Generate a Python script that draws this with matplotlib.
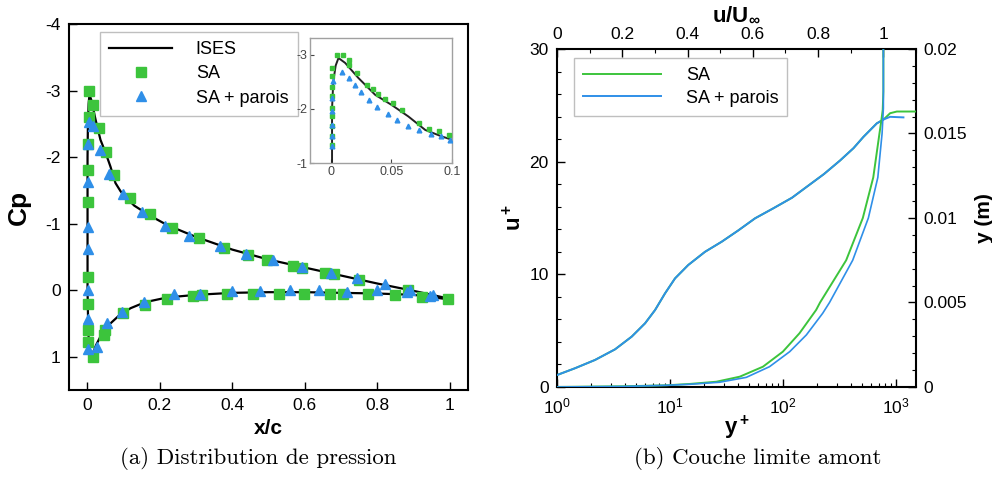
import numpy as np
import matplotlib
matplotlib.use("Agg")
import matplotlib.pyplot as plt
from matplotlib.ticker import MultipleLocator, NullFormatter, LogLocator

plt.rcParams['font.family'] = ['Liberation Sans', 'DejaVu Sans']
plt.rcParams['mathtext.fontset'] = 'custom'
plt.rcParams['mathtext.rm'] = 'Liberation Sans'
plt.rcParams['mathtext.it'] = 'Liberation Sans:italic'
plt.rcParams['mathtext.bf'] = 'Liberation Sans:bold'
plt.rcParams['axes.unicode_minus'] = False

# ---------------- Data: (a) pressure distribution ----------------
ises_x = [1.0, 0.9, 0.8, 0.7, 0.6, 0.5, 0.4, 0.3, 0.22, 0.16, 0.12, 0.09, 0.06, 0.04,
          0.025, 0.015, 0.011, 0.006, 0.003, 0.001, 0.001, 0.001, 0.002, 0.004, 0.0063,
          0.0118, 0.0228, 0.0366, 0.0504, 0.064, 0.078, 0.0917, 0.1, 0.13, 0.17, 0.22,
          0.3, 0.4, 0.5, 0.6, 0.7, 0.8, 0.9, 1.0]
ises_cp = [0.14, 0.07, 0.05, 0.04, 0.03, 0.03, 0.04, 0.07, 0.11, 0.18, 0.27, 0.37, 0.52, 0.66,
           0.82, 0.95, 1.0, 0.93, 0.6, 0.0, -1.0, -2.0, -2.5, -2.8, -2.94,
           -2.85, -2.57, -2.26, -2.07, -1.86, -1.61, -1.49, -1.43, -1.27, -1.13, -0.98,
           -0.8, -0.61, -0.46, -0.34, -0.22, -0.1, 0.01, 0.13]

sa_x = [0.006, 0.017, 0.004, 0.033, 0.052, 0.075, 0.117, 0.172, 0.233, 0.307, 0.376,
        0.444, 0.495, 0.568, 0.591, 0.656, 0.681, 0.75, 0.885, 0.994,
        0.003, 0.003, 0.003, 0.002, 0.002, 0.002, 0.003, 0.016,
        0.045, 0.05, 0.098, 0.16, 0.22, 0.293, 0.316, 0.385, 0.456, 0.53, 0.598,
        0.67, 0.706, 0.775, 0.849, 0.922]
sa_cp = [-3.0, -2.79, -2.6, -2.43, -2.08, -1.73, -1.38, -1.14, -0.94, -0.78, -0.64,
         -0.53, -0.45, -0.36, -0.34, -0.26, -0.24, -0.16, 0.0, 0.14,
         -2.2, -1.81, -1.33, -0.2, 0.21, 0.6, 0.78, 1.0,
         0.67, 0.6, 0.35, 0.22, 0.14, 0.09, 0.07, 0.06, 0.05, 0.05, 0.05,
         0.05, 0.05, 0.05, 0.07, 0.1]

sap_x = [0.004, 0.017, 0.034, 0.059, 0.1, 0.15, 0.215, 0.282, 0.365, 0.438, 0.511,
         0.591, 0.671, 0.745, 0.821, 0.89, 0.954,
         0.002, 0.002, 0.002, 0.002, 0.002, 0.002, 0.003, 0.027,
         0.056, 0.095, 0.158, 0.238, 0.311, 0.4, 0.477, 0.559, 0.64, 0.715, 0.8, 0.883, 0.945]
sap_cp = [-2.52, -2.46, -2.11, -1.75, -1.44, -1.17, -0.96, -0.82, -0.66, -0.54, -0.45,
          -0.35, -0.26, -0.19, -0.1, 0.0, 0.075,
          -2.2, -1.62, -0.95, -0.62, 0.0, 0.44, 0.88, 0.85,
          0.5, 0.33, 0.18, 0.06, 0.05, 0.01, 0.01, -0.01, 0.0, 0.03, 0.0, 0.03, 0.08]

# inset (leading-edge zoom)
in_sa_x = [0.0008, 0.0008, 0.0008, 0.0008, 0.0008, 0.0008, 0.0006, 0.0006, 0.0006,
           0.005, 0.0104, 0.0154, 0.0154, 0.0215, 0.0298, 0.0352, 0.0393, 0.0449, 0.0517,
           0.0587, 0.0724, 0.0807, 0.089, 0.0978]
in_sa_cp = [-2.75, -2.6, -2.41, -2.23, -2.02, -1.86, -1.68, -1.49, -1.34,
            -3.0, -3.0, -2.91, -2.82, -2.67, -2.44, -2.36, -2.27, -2.19, -2.10,
            -1.98, -1.73, -1.63, -1.59, -1.52]
in_sap_x = [0.0006, 0.0006, 0.0006, 0.0006, 0.0006, 0.0021, 0.0091, 0.015, 0.020, 0.025,
            0.0317, 0.038, 0.0468, 0.0545, 0.0641, 0.073, 0.0829, 0.091, 0.0986]
in_sap_cp = [-1.31, -1.5, -1.7, -1.96, -2.2, -2.51, -2.69, -2.57, -2.45, -2.31,
             -2.17, -2.03, -1.91, -1.80, -1.69, -1.61, -1.54, -1.49, -1.42]

# ---------------- Data: (b) upstream boundary layer ----------------
yplus_sa = [1, 1.44, 2.17, 3.26, 4.58, 6.01, 7.37, 9.03, 11.07, 14.5, 20.4, 28.7, 40.2,
            56.5, 82, 120, 162, 230, 319, 420, 514, 675, 776, 885, 1015, 1500]
uplus_sa = [1.06, 1.66, 2.40, 3.34, 4.47, 5.65, 6.83, 8.31, 9.64, 10.83, 12.0, 12.9, 13.9,
            14.97, 15.86, 16.8, 17.77, 18.9, 20.1, 21.2, 22.2, 23.4, 23.75, 24.3, 24.45, 24.45]
yplus_sap = [1, 1.44, 2.17, 3.26, 4.58, 6.01, 7.37, 9.03, 11.07, 14.5, 20.4, 28.7, 40.2,
             56.5, 82, 120, 162, 230, 319, 420, 514, 675, 776, 885, 1161]
uplus_sap = [1.06, 1.66, 2.40, 3.34, 4.47, 5.65, 6.83, 8.31, 9.64, 10.83, 12.0, 12.9, 13.9,
             14.97, 15.86, 16.8, 17.77, 18.9, 20.1, 21.2, 22.2, 23.4, 23.75, 23.98, 23.93]

u_sa = [0.0, 0.2, 0.336, 0.407, 0.488, 0.56, 0.631, 0.692, 0.743, 0.794, 0.806, 0.886,
        0.937, 0.969, 0.988, 0.994, 0.998, 1.0, 1.0]
y_sa = [0.0, 0.00004, 0.0001, 0.00018, 0.00031, 0.00061, 0.0012, 0.00209, 0.00318, 0.00456,
        0.005, 0.0075, 0.01, 0.0124, 0.015, 0.0158, 0.0164, 0.0175, 0.02]
u_sap = [0.0, 0.2, 0.336, 0.407, 0.498, 0.58, 0.651, 0.713, 0.764, 0.814, 0.835, 0.906,
         0.954, 0.983, 0.996, 1.0, 1.0]
y_sap = [0.0, 0.00003, 0.0001, 0.00016, 0.00028, 0.00057, 0.0012, 0.00209, 0.00308, 0.00436,
         0.005, 0.0075, 0.01, 0.0124, 0.015, 0.0165, 0.02]

GREEN = '#3cc43c'
BLUE = '#2f8fe8'

fig = plt.figure(figsize=(9.92, 4.79), dpi=100)

# ---------------- (a) ----------------
ax = fig.add_axes([0.0696, 0.1858, 0.4022, 0.7641])
ax.plot(ises_x, ises_cp, color='black', lw=1.6, label='ISES', zorder=2)
ax.plot(sa_x, sa_cp, 's', color=GREEN, ms=6.5, mec=GREEN, label='SA', zorder=3)
ax.plot(sap_x, sap_cp, '^', color=BLUE, ms=6.5, mec=BLUE, label='SA + parois', zorder=4)
ax.set_xlim(-0.05, 1.05)
ax.set_ylim(1.5, -4)
ax.set_xticks([0, 0.2, 0.4, 0.6, 0.8, 1.0])
ax.set_xticklabels(['0', '0.2', '0.4', '0.6', '0.8', '1'])
ax.set_yticks([1, 0, -1, -2, -3, -4])
ax.set_yticklabels(['1', '0', '-1', '-2', '-3', '-4'])
ax.tick_params(direction='in', length=6, width=1, labelsize=12.5, pad=6)
for s in ax.spines.values():
    s.set_linewidth(1.5)
ax.set_xlabel('x/c', fontsize=15, fontweight='bold', labelpad=4)
ax.set_ylabel('Cp', fontsize=19, fontweight='bold', labelpad=10)
leg = ax.legend(loc='upper left', bbox_to_anchor=(0.078, 0.978), borderaxespad=0,
                fontsize=13, frameon=True, fancybox=False, edgecolor='#b0b0b0',
                handlelength=3.5, handletextpad=1.3, borderpad=0.5, labelspacing=0.4)
leg.get_frame().set_linewidth(1.0)

# inset
axi = fig.add_axes([0.3125, 0.6597, 0.1431, 0.2610])
axi.plot(ises_x, ises_cp, color='#222222', lw=1.4, zorder=2)
axi.plot(in_sa_x, in_sa_cp, 's', color=GREEN, ms=3.2, mec=GREEN, zorder=3)
axi.plot(in_sap_x, in_sap_cp, '^', color=BLUE, ms=3.4, mec=BLUE, zorder=4)
axi.set_xlim(-0.0172, 0.1)
axi.set_ylim(-1.0, -3.31)
axi.set_xticks([0, 0.05, 0.1])
axi.set_xticklabels(['0', '0.05', '0.1'])
axi.set_yticks([-1, -2, -3])
axi.set_yticklabels(['-1', '-2', '-3'])
axi.tick_params(direction='in', length=3, width=0.8, labelsize=9, pad=2, colors='#444444')
for s in axi.spines.values():
    s.set_color('#a0a0a0')
    s.set_linewidth(1.0)
axi.set_facecolor('white')

# ---------------- (b) ----------------
bx = fig.add_axes([0.5615, 0.1921, 0.3619, 0.7056])
bx.set_xscale('log')
bx.plot(yplus_sa, uplus_sa, color=GREEN, lw=1.4, label='SA', zorder=3)
bx.plot(yplus_sap, uplus_sap, color=BLUE, lw=1.4, label='SA + parois', zorder=4)
bx.set_xlim(1, 1500)
bx.set_ylim(0, 30)
bx.yaxis.set_major_locator(MultipleLocator(10))
bx.yaxis.set_minor_locator(MultipleLocator(2))
bx.xaxis.set_major_locator(LogLocator(base=10, numticks=10))
bx.xaxis.set_minor_locator(LogLocator(base=10, subs=np.arange(2, 10), numticks=10))
bx.xaxis.set_minor_formatter(NullFormatter())
bx.tick_params(which='major', direction='in', length=6, width=1, labelsize=12.5, pad=5)
bx.tick_params(axis='x', which='major', pad=7)
bx.tick_params(axis='y', which='major', pad=6)
bx.tick_params(which='minor', direction='in', length=3, width=0.8)
for s in bx.spines.values():
    s.set_linewidth(1.5)
bx.set_xlabel(r'$\mathbf{y^+}$', fontsize=16, labelpad=-2)
bx.set_ylabel(r'$\mathbf{u^+}$', fontsize=16)
bx.yaxis.set_label_coords(-0.085, 0.5)
lg2 = bx.legend(loc='upper left', bbox_to_anchor=(0.047, 0.973), borderaxespad=0,
                fontsize=13, frameon=True, fancybox=False, edgecolor='#b0b0b0',
                handlelength=4.3, handletextpad=1.4, borderpad=0.5, labelspacing=0.3)
lg2.get_frame().set_linewidth(1.0)

px = fig.add_axes(bx.get_position(), facecolor='none')
px.plot(u_sa, y_sa, color=GREEN, lw=1.4, zorder=3)
px.plot(u_sap, y_sap, color=BLUE, lw=1.2, zorder=4)
px.set_xlim(0, 1.1)
px.set_ylim(0, 0.02)
px.xaxis.tick_top()
px.xaxis.set_label_position('top')
px.yaxis.tick_right()
px.yaxis.set_label_position('right')
px.set_xticks([0, 0.2, 0.4, 0.6, 0.8, 1.0])
px.set_xticklabels(['0', '0.2', '0.4', '0.6', '0.8', '1'])
px.xaxis.set_minor_locator(MultipleLocator(0.1))
px.set_yticks([0, 0.005, 0.01, 0.015, 0.02])
px.set_yticklabels(['0', '0.005', '0.01', '0.015', '0.02'])
px.yaxis.set_minor_locator(MultipleLocator(0.001))
px.tick_params(which='major', direction='in', length=6, width=1, labelsize=12.5, pad=5)
px.tick_params(which='minor', direction='in', length=3, width=0.8)
for s in px.spines.values():
    s.set_visible(False)
px.set_xlabel(r'$\mathbf{u/U_\infty}$', fontsize=16, labelpad=4)
px.set_ylabel('y (m)', fontsize=15, fontweight='bold', labelpad=6)

# ---------------- captions ----------------
cap_font = dict(fontsize=16.5, family=['cmr10', 'DejaVu Serif'])
fig.text(0.26, 0.042, '(a) Distribution de pression', ha='center', va='center', **cap_font)
fig.text(0.764, 0.042, '(b) Couche limite amont', ha='center', va='center', **cap_font)

fig.savefig('out.png', dpi=100)
